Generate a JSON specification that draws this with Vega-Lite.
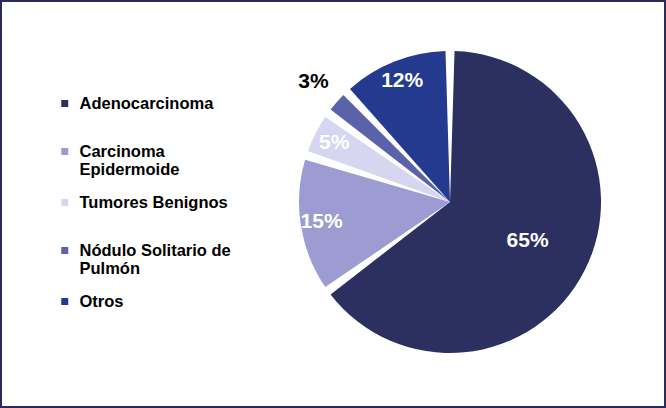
{
  "$schema": "https://vega.github.io/schema/vega-lite/v6.json",
  "width": 666,
  "height": 408,
  "autosize": {"type": "fit", "contains": "padding"},
  "padding": 0,
  "background": "white",
  "config": {"view": {"stroke": "#2b2a5e", "strokeWidth": 4}},
  "data": {
    "values": [
      {"tipo": "Adenocarcinoma", "porcentaje": 0.65, "orden": 1},
      {"tipo": "Carcinoma Epidermoide", "porcentaje": 0.15, "orden": 2},
      {"tipo": "Tumores Benignos", "porcentaje": 0.05, "orden": 3},
      {"tipo": "Nódulo Solitario de Pulmón", "porcentaje": 0.03, "orden": 4},
      {"tipo": "Otros", "porcentaje": 0.12, "orden": 5}
    ]
  },
  "encoding": {
    "theta": {"field": "porcentaje", "type": "quantitative", "stack": true},
    "order": {"field": "orden", "type": "quantitative"},
    "x": {"datum": 0.6757, "type": "quantitative", "scale": {"domain": [0, 1], "nice": false, "zero": false}, "axis": null},
    "y": {"datum": 0.5049, "type": "quantitative", "scale": {"domain": [0, 1], "nice": false, "zero": false}, "axis": null}
  },
  "layer": [
    {
      "mark": {"type": "arc", "outerRadius": 151, "padAngle": 0.06},
      "encoding": {
        "color": {
          "field": "tipo",
          "type": "nominal",
          "sort": ["Adenocarcinoma", "Carcinoma Epidermoide", "Tumores Benignos", "Nódulo Solitario de Pulmón", "Otros"],
          "scale": {
            "domain": ["Adenocarcinoma", "Carcinoma Epidermoide", "Tumores Benignos", "Nódulo Solitario de Pulmón", "Otros"],
            "range": ["#2c3061", "#9c9cd2", "#d6d6f0", "#5a62aa", "#233a8e"]
          },
          "legend": {
            "orient": "none",
            "legendX": 56.5,
            "legendY": 79.5,
            "title": null,
            "padding": 0,
            "clipHeight": 48,
            "rowPadding": 0,
            "symbolType": "M-1,-1H1V1H-1Z",
            "symbolSize": 49,
            "symbolStrokeWidth": 0,
            "labelOffset": 6.5,
            "labelFont": "Liberation Sans",
            "labelFontSize": 16.5,
            "labelFontWeight": "bold",
            "labelColor": "#000000",
            "labelLimit": 300,
            "labelBaseline": "middle",
            "labelExpr": "datum.label == 'Carcinoma Epidermoide' ? ['Carcinoma', 'Epidermoide'] : datum.label == 'Nódulo Solitario de Pulmón' ? ['Nódulo Solitario de', 'Pulmón'] : datum.label"
          }
        }
      }
    },
    {
      "mark": {"type": "text", "radius": 87, "font": "Liberation Sans", "fontSize": 21, "fontWeight": "bold", "color": "white"},
      "encoding": {
        "text": {"condition": {"test": "datum.porcentaje > 0.5", "field": "porcentaje", "type": "quantitative", "format": ".0%"}, "value": ""}
      }
    },
    {
      "mark": {"type": "text", "radius": 130, "font": "Liberation Sans", "fontSize": 21, "fontWeight": "bold", "color": "white"},
      "encoding": {
        "text": {"condition": {"test": "datum.porcentaje > 0.04 && datum.porcentaje < 0.5", "field": "porcentaje", "type": "quantitative", "format": ".0%"}, "value": ""}
      }
    },
    {
      "mark": {"type": "text", "radius": 182, "font": "Liberation Sans", "fontSize": 21, "fontWeight": "bold", "color": "black"},
      "encoding": {
        "text": {"condition": {"test": "datum.porcentaje < 0.04", "field": "porcentaje", "type": "quantitative", "format": ".0%"}, "value": ""}
      }
    }
  ]
}
